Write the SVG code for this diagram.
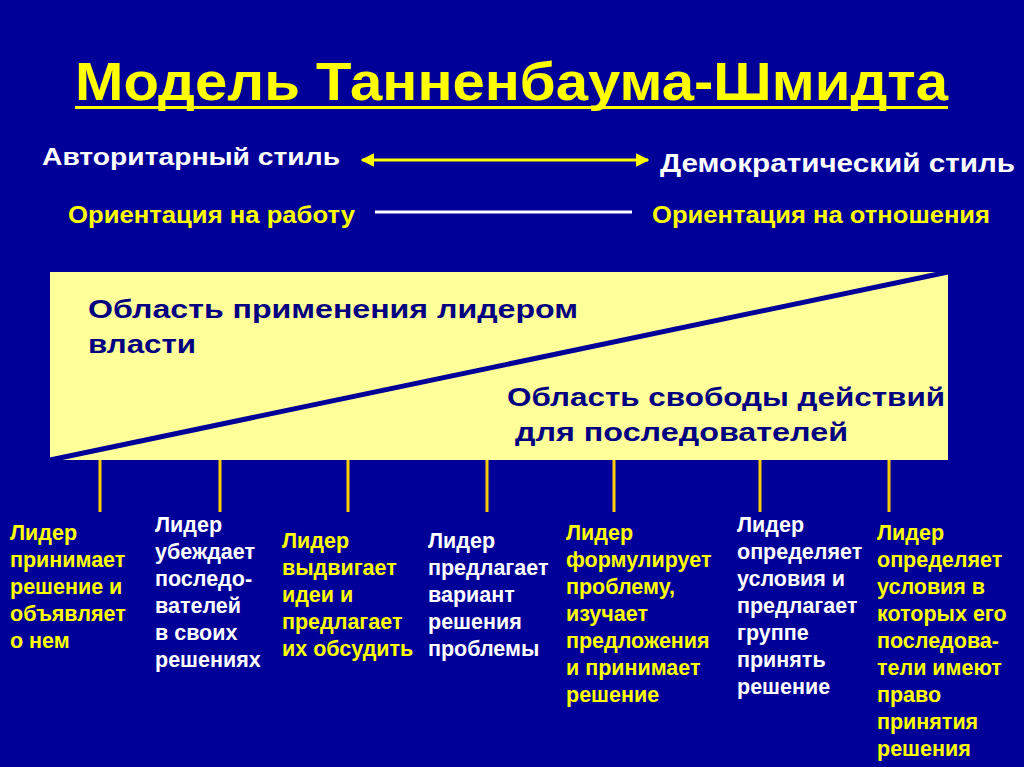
<svg xmlns="http://www.w3.org/2000/svg" width="1024" height="767" viewBox="0 0 1024 767">
<defs>
<style>
.t{font-family:"Liberation Sans",Arial,sans-serif;font-weight:bold}
.y{fill:#FFFF00}
.w{fill:#FFFFFF}
.b{fill:#000080}
.c{font-size:21.5px}
.tick{stroke:#FFCC00;stroke-width:3}
</style>
<marker id="ah" viewBox="0 0 10 10" refX="9" refY="5" markerWidth="4.5" markerHeight="4.5" orient="auto-start-reverse" markerUnits="strokeWidth">
<path d="M0,0 L10,5 L0,10 z" fill="#FFFF00"/>
</marker>
</defs>
<rect width="1024" height="767" fill="#000099"/>
<g id="title">
<text class="t y" x="75" y="100" font-size="53" textLength="873" lengthAdjust="spacingAndGlyphs">Модель Танненбаума-Шмидта</text>
<rect x="75" y="106" width="873" height="3" fill="#FFFF00"/>
</g>
<g id="scale">
<text class="t w" x="42" y="165" font-size="24" textLength="298" lengthAdjust="spacingAndGlyphs">Авторитарный стиль</text>
<text class="t w" x="660" y="172" font-size="25" textLength="355" lengthAdjust="spacingAndGlyphs">Демократический стиль</text>
<text class="t y" x="68" y="223" font-size="24" textLength="287" lengthAdjust="spacingAndGlyphs">Ориентация на работу</text>
<text class="t y" x="652" y="223" font-size="24" textLength="338" lengthAdjust="spacingAndGlyphs">Ориентация на отношения</text>
</g>
<g id="connectors">
<line x1="362" y1="160" x2="648" y2="160" stroke="#FFFF00" stroke-width="3" marker-start="url(#ah)" marker-end="url(#ah)"/>
<line x1="375" y1="212" x2="632" y2="212" stroke="#FFFFFF" stroke-width="3"/>
<line class="tick" x1="100" y1="460" x2="100" y2="512"/>
<line class="tick" x1="220" y1="460" x2="220" y2="512"/>
<line class="tick" x1="348" y1="460" x2="348" y2="512"/>
<line class="tick" x1="487" y1="460" x2="487" y2="512"/>
<line class="tick" x1="614" y1="460" x2="614" y2="512"/>
<line class="tick" x1="760" y1="460" x2="760" y2="512"/>
<line class="tick" x1="889" y1="460" x2="889" y2="512"/>
</g>
<g id="box">
<rect x="50" y="272" width="898" height="188" fill="#FFFF99"/>
<line x1="50" y1="460" x2="948" y2="272" stroke="#000099" stroke-width="5"/>
<text class="t b" x="88" y="318" font-size="26" textLength="490" lengthAdjust="spacingAndGlyphs">Область применения лидером</text>
<text class="t b" x="88" y="353" font-size="26" textLength="108" lengthAdjust="spacingAndGlyphs">власти</text>
<text class="t b" x="507" y="406" font-size="26" textLength="438" lengthAdjust="spacingAndGlyphs">Область свободы действий</text>
<text class="t b" x="515" y="441" font-size="26" textLength="333" lengthAdjust="spacingAndGlyphs">для последователей</text>
</g>
<g id="col1">
<text class="t y c" x="10" y="540">Лидер</text>
<text class="t y c" x="10" y="567">принимает</text>
<text class="t y c" x="10" y="594">решение и</text>
<text class="t y c" x="10" y="621">объявляет</text>
<text class="t y c" x="10" y="648">о нем</text>
</g>
<g id="col2">
<text class="t w c" x="155" y="532">Лидер</text>
<text class="t w c" x="155" y="559">убеждает</text>
<text class="t w c" x="155" y="586">последо-</text>
<text class="t w c" x="155" y="613">вателей</text>
<text class="t w c" x="155" y="640">в своих</text>
<text class="t w c" x="155" y="667">решениях</text>
</g>
<g id="col3">
<text class="t y c" x="282" y="548">Лидер</text>
<text class="t y c" x="282" y="575">выдвигает</text>
<text class="t y c" x="282" y="602">идеи и</text>
<text class="t y c" x="282" y="629">предлагает</text>
<text class="t y c" x="282" y="656">их обсудить</text>
</g>
<g id="col4">
<text class="t w c" x="428" y="548">Лидер</text>
<text class="t w c" x="428" y="575">предлагает</text>
<text class="t w c" x="428" y="602">вариант</text>
<text class="t w c" x="428" y="629">решения</text>
<text class="t w c" x="428" y="656">проблемы</text>
</g>
<g id="col5">
<text class="t y c" x="566" y="540">Лидер</text>
<text class="t y c" x="566" y="567">формулирует</text>
<text class="t y c" x="566" y="594">проблему,</text>
<text class="t y c" x="566" y="621">изучает</text>
<text class="t y c" x="566" y="648">предложения</text>
<text class="t y c" x="566" y="675">и принимает</text>
<text class="t y c" x="566" y="702">решение</text>
</g>
<g id="col6">
<text class="t w c" x="737" y="532">Лидер</text>
<text class="t w c" x="737" y="559">определяет</text>
<text class="t w c" x="737" y="586">условия и</text>
<text class="t w c" x="737" y="613">предлагает</text>
<text class="t w c" x="737" y="640">группе</text>
<text class="t w c" x="737" y="667">принять</text>
<text class="t w c" x="737" y="694">решение</text>
</g>
<g id="col7">
<text class="t y c" x="877" y="540">Лидер</text>
<text class="t y c" x="877" y="567">определяет</text>
<text class="t y c" x="877" y="594">условия в</text>
<text class="t y c" x="877" y="621">которых его</text>
<text class="t y c" x="877" y="648">последова-</text>
<text class="t y c" x="877" y="675">тели имеют</text>
<text class="t y c" x="877" y="702">право</text>
<text class="t y c" x="877" y="729">принятия</text>
<text class="t y c" x="877" y="756">решения</text>
</g>
</svg>
